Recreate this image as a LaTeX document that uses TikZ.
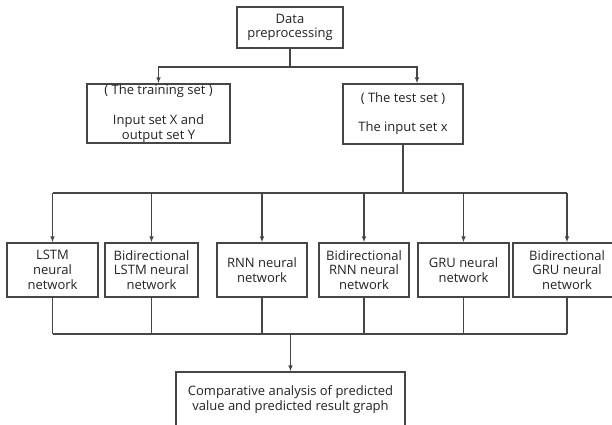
\documentclass[tikz,border=0pt]{standalone}
\usepackage{fontspec}
\setmainfont{Open Sans}
\usepackage{tikz}
\usetikzlibrary{arrows.meta,calc}
\definecolor{linegray}{RGB}{70,70,70}
\definecolor{textgray}{RGB}{35,35,35}

\begin{document}
\begin{tikzpicture}[
  x=1pt, y=-1pt,
  every node/.style={font=\fontsize{13}{14.8}\selectfont, text=textgray},
  box/.style={draw=linegray, line width=1.1pt, align=center, inner sep=0pt},
  link/.style={draw=linegray, line width=1.1pt},
  arr/.style={link, -{Latex[length=6pt,width=4.5pt]}}
]
\clip (0,0) rectangle (612,424);

\node[box, minimum width=106pt, minimum height=41pt] (data) at (290,27.5) {Data\\preprocessing};
\node[box, minimum width=143pt, minimum height=59pt] (train) at (158.5,113.5) {( The training set )\\[15pt]Input set X and\\output set Y};
\node[box, minimum width=120pt, minimum height=60pt] (test) at (403,114) {( The test set )\\[14pt]The input set x};

\node[box, minimum width=91pt, minimum height=54pt] (lstm) at (52.5,270) {LSTM\\neural\\network};
\node[box, minimum width=93pt, minimum height=54pt] (bilstm) at (151.5,270) {Bidirectional\\LSTM neural\\network};
\node[box, minimum width=90pt, minimum height=54pt] (rnn) at (262,270) {RNN neural\\network};
\node[box, minimum width=90pt, minimum height=54pt] (birnn) at (364,270) {Bidirectional\\RNN neural\\network};
\node[box, minimum width=91pt, minimum height=54pt] (gru) at (463.5,270) {GRU neural\\network};
\node[box, minimum width=108pt, minimum height=54pt] (bigru) at (567,270) {Bidirectional\\GRU neural\\network};

\node[box, minimum width=229pt, minimum height=55pt] (result) at (290.5,399.5) {Comparative analysis of predicted\\value and predicted result graph};

% split after preprocessing
\coordinate (split) at (290,67);
\coordinate (testin) at ($(test.north)+(14,0)$);
\draw[link] (data) -- (split);
\draw[arr] (split) -| (train.north);
\draw[arr] (split) -| (testin);

% test set to the six networks
\coordinate (fanout) at (test.south |- 0,193);
\draw[link] (test) -- (fanout);
\draw[link] (lstm.north |- fanout) -- (bigru.north |- fanout);
\foreach \n in {lstm, bilstm, rnn, birnn, gru, bigru}
  \draw[arr] (\n.north |- fanout) -- (\n.north);

% networks to comparison
\coordinate (fanin) at (result.north |- 0,334);
\foreach \n in {lstm, bilstm, rnn, birnn, gru, bigru}
  \draw[link] (\n.south) -- (\n.south |- fanin);
\draw[link] (lstm.south |- fanin) -- (bigru.south |- fanin);
\draw[arr] (fanin) -- (result.north);
\end{tikzpicture}
\end{document}
